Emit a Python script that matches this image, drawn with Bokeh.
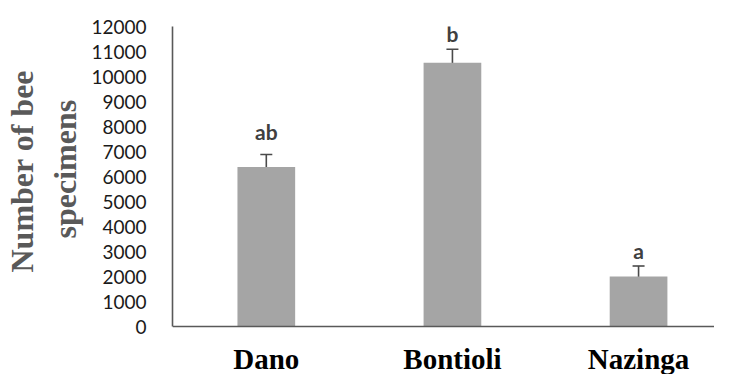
from bokeh.plotting import figure
from bokeh.models import ColumnDataSource, Range1d, FixedTicker, Whisker, TeeHead, Span, Title
from bokeh.embed import file_html
from bokeh.resources import INLINE
from bokeh.core.properties import value

categories = ["Dano", "Bontioli", "Nazinga"]
means = [6380, 10550, 2000]
errors = [500, 540, 420]
letters = ["ab", "b", "a"]
letter_y = [7800, 11720, 3040]
y_ticks = [0, 1000, 2000, 3000, 4000, 5000, 6000, 7000, 8000, 9000, 10000, 11000, 12000]
y_title_lines = ["Number of bee", "specimens"]

xs = list(range(len(categories)))
src = ColumnDataSource(dict(
    x=xs, top=means,
    upper=[m + e for m, e in zip(means, errors)],
    lower=[m - e for m, e in zip(means, errors)],
    letter=letters, ly=letter_y,
    cat=categories, zero=[0] * len(categories),
))

p = figure(width=714, height=374, output_backend="svg", toolbar_location=None,
           x_range=Range1d(-0.504, 2.408), y_range=Range1d(-1920, 12000),
           min_border_left=172, min_border_right=0, min_border_top=26, min_border_bottom=0)
p.outline_line_color = None
p.grid.grid_line_color = None
p.background_fill_color = "white"
p.xaxis.visible = False

p.vbar(x="x", top="top", width=0.31, bottom=0, source=src,
       fill_color="#A5A5A5", line_color=None)

w = Whisker(base="x", upper="upper", lower="lower", source=src,
            line_color="#4a4a4a", line_width=1.6,
            upper_head=TeeHead(size=12, line_color="#4a4a4a", line_width=1.6),
            lower_head=TeeHead(size=12, line_color="#4a4a4a", line_width=1.6))
p.add_layout(w)

p.add_layout(Span(location=0, dimension="width", line_color="#595959", line_width=1.6))

p.text(x="x", y="ly", text="letter", source=src, text_align="center",
       text_baseline="alphabetic", text_font=value("Lato"), text_font_style="bold",
       text_font_size="21px", text_color="#404040")

# category labels under the baseline
p.text(x="x", y="zero", text="cat", source=src, text_align="center",
       text_baseline="top", y_offset=16, text_font=value("Liberation Serif"),
       text_font_style="bold", text_font_size="29px", text_color="#000000")

ya = p.yaxis[0]
ya.bounds = (0, 12000)
ya.ticker = FixedTicker(ticks=y_ticks)
ya.major_tick_line_color = None
ya.minor_tick_line_color = None
ya.major_label_standoff = 20
ya.major_label_text_font = "Lato"
ya.major_label_text_font_size = "19px"
ya.major_label_text_color = "#1a1a1a"
ya.axis_line_color = "#595959"
ya.axis_line_width = 1.6

title_style = dict(align="left", text_font="Liberation Serif", text_font_size="32px",
                   text_font_style="bold", text_color="#595959")
# inner line first (closest to the axis), outer line second
t2 = Title(text=y_title_lines[1], offset=136, standoff=11, **title_style)
t1 = Title(text=y_title_lines[0], offset=102, standoff=0, **title_style)
p.add_layout(t2, "left")
p.add_layout(t1, "left")

open("out.html", "w").write(file_html(p, INLINE))
